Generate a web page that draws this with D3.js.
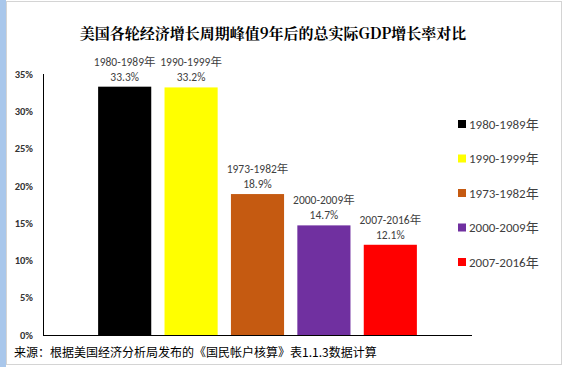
<!DOCTYPE html>
<html>
<head>
<meta charset="utf-8">
<script src="https://cdn.jsdelivr.net/npm/d3@7"></script>
<style>
  body { margin: 0; background: #fff; }
  svg { display: block; }
</style>
</head>
<body>
<svg id="chart" width="564" height="367"></svg>
<script>
// data
var periods = ["1980-1989年", "1990-1999年", "1973-1982年", "2000-2009年", "2007-2016年"];
var growth = [33.3, 33.2, 18.9, 14.7, 12.1];
var colors = ["#000000", "#ffff00", "#c55a11", "#7030a0", "#ff0000"];
var yTicks = [0, 5, 10, 15, 20, 25, 30, 35];

var titleText = "美国各轮经济增长周期峰值9年后的总实际GDP增长率对比";
var sourceText = "来源：根据美国经济分析局发布的《国民帐户核算》表1.1.3数据计算";

var svg = d3.select("#chart"),
    width = +svg.attr("width"),
    height = +svg.attr("height");

var latin = "Carlito, 'Open Sans', 'Noto Sans CJK SC', sans-serif";

// frame (window chrome of the screenshot)
svg.append("rect").attr("x", 0).attr("y", 0).attr("width", 6).attr("height", height).attr("fill", "#a9c7eb");
svg.append("rect")
    .attr("x", 6.5).attr("y", 1.5)
    .attr("width", 555).attr("height", 363)
    .attr("fill", "none").attr("stroke", "#d4d4d4");

var margin = {left: 43, right: 92, top: 74, bottom: 32};

var x = d3.scaleBand()
    .domain(periods)
    .range([margin.left, width - margin.right])
    .paddingInner(0.2)
    .paddingOuter(0.83);

var y = d3.scaleLinear()
    .domain([0, 35])
    .range([height - margin.bottom, margin.top]);

// title
svg.append("text")
    .attr("x", 273).attr("y", 39)
    .attr("text-anchor", "middle")
    .style("font", "bold 15px 'Noto Serif CJK SC', 'Noto Sans CJK SC', serif")
    .attr("fill", "#000")
    .text(titleText);

// y axis labels
svg.append("g")
    .selectAll("text")
    .data(yTicks)
    .enter().append("text")
    .attr("x", 33)
    .attr("y", function(d) { return y(d); })
    .attr("dy", "0.35em")
    .attr("text-anchor", "end")
    .style("font", "bold 10.5px " + latin)
    .attr("fill", "#333")
    .text(function(d) { return d + "%"; });

// bars
svg.append("g")
    .selectAll("rect")
    .data(growth)
    .enter().append("rect")
    .attr("x", function(d, i) { return x(periods[i]); })
    .attr("y", function(d) { return y(d); })
    .attr("width", x.bandwidth())
    .attr("height", function(d) { return y(0) - y(d); })
    .attr("fill", function(d, i) { return colors[i]; });

// axes lines
svg.append("line")
    .attr("x1", margin.left + 0.5).attr("x2", margin.left + 0.5)
    .attr("y1", y(35)).attr("y2", y(0))
    .attr("stroke", "#000");
svg.append("line")
    .attr("x1", margin.left).attr("x2", width - margin.right)
    .attr("y1", y(0) + 0.5).attr("y2", y(0) + 0.5)
    .attr("stroke", "#000");

// bar labels
var lbl = svg.append("g")
    .selectAll("g")
    .data(growth)
    .enter().append("g")
    .attr("transform", function(d, i) {
        return "translate(" + (x(periods[i]) + x.bandwidth() / 2) + "," + y(d) + ")";
    })
    .attr("text-anchor", "middle")
    .style("font", "11.5px " + latin)
    .attr("fill", "#404040");

lbl.append("text")
    .attr("y", -21)
    .text(function(d, i) { return periods[i]; });
lbl.append("text")
    .attr("y", -6)
    .text(function(d) { return d.toFixed(1) + "%"; });

// legend
var legend = svg.append("g")
    .selectAll("g")
    .data(periods)
    .enter().append("g")
    .attr("transform", function(d, i) { return "translate(458," + (124 + i * 34.5) + ")"; });

legend.append("rect")
    .attr("x", 0).attr("y", -4)
    .attr("width", 8).attr("height", 8)
    .attr("fill", function(d, i) { return colors[i]; });

legend.append("text")
    .attr("x", 11)
    .attr("dy", "0.35em")
    .style("font", "13px " + latin)
    .attr("fill", "#404040")
    .text(function(d) { return d; });

// source note
svg.append("text")
    .attr("x", 14).attr("y", 357)
    .style("font", "12px 'Noto Sans CJK SC', sans-serif")
    .attr("fill", "#000")
    .text(sourceText);
</script>
</body>
</html>
